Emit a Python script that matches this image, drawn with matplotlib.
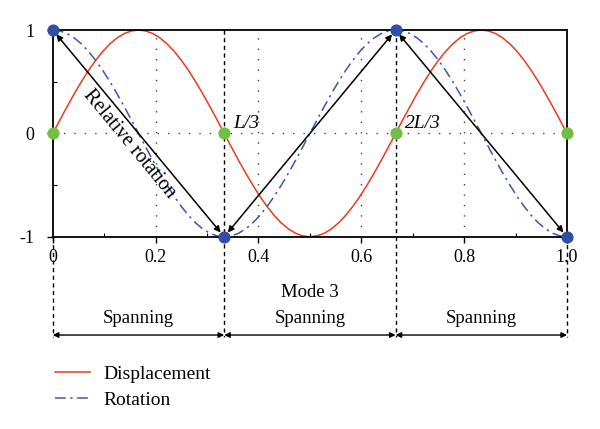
import matplotlib

matplotlib.use("Agg")
import matplotlib.pyplot as plt
from matplotlib.ticker import MultipleLocator

# ---------------------------------------------------------------- data
# positions along the beam (x / L), read every 1/72
X = [k / 72 for k in range(73)]
DISPLACEMENT = [
    0.000, 0.131, 0.259, 0.383, 0.500, 0.609, 0.707, 0.793, 0.866, 0.924, 0.966, 0.991,
    1.000, 0.991, 0.966, 0.924, 0.866, 0.793, 0.707, 0.609, 0.500, 0.383, 0.259, 0.131,
    0.000, -0.131, -0.259, -0.383, -0.500, -0.609, -0.707, -0.793, -0.866, -0.924,
    -0.966, -0.991, -1.000, -0.991, -0.966, -0.924, -0.866, -0.793, -0.707, -0.609,
    -0.500, -0.383, -0.259, -0.131,
    0.000, 0.131, 0.259, 0.383, 0.500, 0.609, 0.707, 0.793, 0.866, 0.924, 0.966, 0.991,
    1.000, 0.991, 0.966, 0.924, 0.866, 0.793, 0.707, 0.609, 0.500, 0.383, 0.259, 0.131,
    0.000]
ROTATION = [
    1.000, 0.991, 0.966, 0.924, 0.866, 0.793, 0.707, 0.609, 0.500, 0.383, 0.259, 0.131,
    0.000, -0.131, -0.259, -0.383, -0.500, -0.609, -0.707, -0.793, -0.866, -0.924,
    -0.966, -0.991,
    -1.000, -0.991, -0.966, -0.924, -0.866, -0.793, -0.707, -0.609, -0.500, -0.383,
    -0.259, -0.131, 0.000, 0.131, 0.259, 0.383, 0.500, 0.609, 0.707, 0.793, 0.866,
    0.924, 0.966, 0.991,
    1.000, 0.991, 0.966, 0.924, 0.866, 0.793, 0.707, 0.609, 0.500, 0.383, 0.259, 0.131,
    0.000, -0.131, -0.259, -0.383, -0.500, -0.609, -0.707, -0.793, -0.866, -0.924,
    -0.966, -0.991,
    -1.000]
SUPPORTS = [0.0, 1 / 3, 2 / 3, 1.0]
ROT_PEAKS = [1.0, -1.0, 1.0, -1.0]
DISP_NODES = [0.0, 0.0, 0.0, 0.0]
SPAN_LABELS = ["Spanning", "Spanning", "Spanning"]
XTICKS = [0, 0.2, 0.4, 0.6, 0.8, 1.0]
XTICK_LABELS = ["0", "0.2", "0.4", "0.6", "0.8", "1.0"]
YTICKS = [-1, 0, 1]
YTICK_LABELS = ["-1", "0", "1"]

RED = "#ee3a1e"
BLUE = "#3d56b0"
MK_BLUE = "#2f4fa6"
MK_GREEN = "#72c043"

plt.rcParams["font.family"] = ["Liberation Serif", "DejaVu Serif"]
plt.rcParams["font.size"] = 13

fig = plt.figure(figsize=(6.0, 4.29), dpi=100)
ax = fig.add_axes([0.088, 0.448, 0.857, 0.482])

ax.plot(X, DISPLACEMENT, color=RED, lw=1.1, label="Displacement")
ax.plot(X, ROTATION, color=BLUE, lw=1.1, dashes=(7, 3, 1.5, 3), label="Rotation")

# dotted guides
for gx in (0.2, 0.4, 0.6, 0.8):
    ax.axvline(gx, color="#444444", lw=1.0, ls=(0, (1, 6.5)), zorder=0.5)
ax.axhline(0, color="#444444", lw=1.0, ls=(0, (1, 6.5)), zorder=0.5)

# dashed support lines, running below the axes
for sx in SUPPORTS:
    y_top = 1.0 if sx in (1 / 3, 2 / 3) else -1.0
    ax.plot([sx, sx], [y_top, -1.97], color="black", lw=1.0, ls=(0, (3, 2.5)),
            clip_on=False, zorder=1)

# relative rotation arrows
for i in range(3):
    ax.annotate("", xy=(SUPPORTS[i + 1], ROT_PEAKS[i + 1]),
                xytext=(SUPPORTS[i], ROT_PEAKS[i]),
                arrowprops=dict(arrowstyle="<|-|>", color="black", lw=1.1,
                                mutation_scale=9, shrinkA=4, shrinkB=4))
ax.text(0.149, -0.10, "Relative rotation", rotation=-50.5, ha="center", va="center",
        fontsize=14.5, rotation_mode="anchor")

# markers
ax.scatter(SUPPORTS, ROT_PEAKS, s=60, color=MK_BLUE, zorder=5, clip_on=False)
ax.scatter(SUPPORTS, DISP_NODES, s=60, color=MK_GREEN, zorder=5, clip_on=False)
ax.text(1 / 3 + 0.018, 0.1, "L/3", style="italic", fontsize=14, ha="left", va="center")
ax.text(2 / 3 + 0.018, 0.1, "2L/3", style="italic", fontsize=14, ha="left", va="center")

# spans below
for i in range(3):
    ax.annotate("", xy=(SUPPORTS[i + 1], -1.95), xytext=(SUPPORTS[i], -1.95),
                arrowprops=dict(arrowstyle="<|-|>", color="black", lw=1.0,
                                mutation_scale=8, shrinkA=0, shrinkB=0),
                annotation_clip=False)
    ax.text((SUPPORTS[i] + SUPPORTS[i + 1]) / 2, -1.79, SPAN_LABELS[i], ha="center",
            va="center", fontsize=13.5, clip_on=False)
ax.text(0.5, -1.54, "Mode 3", ha="center", va="center", fontsize=13.5, clip_on=False)

ax.set_xlim(0, 1)
ax.set_ylim(-1, 1)
ax.set_xticks(XTICKS)
ax.set_xticklabels(XTICK_LABELS, fontsize=13)
ax.set_yticks(YTICKS)
ax.set_yticklabels(YTICK_LABELS, fontsize=13)
ax.xaxis.set_minor_locator(MultipleLocator(0.1))
ax.yaxis.set_minor_locator(MultipleLocator(0.5))
ax.tick_params(which="major", length=4, width=1.0, direction="out")
ax.tick_params(axis="x", which="major", pad=5)
ax.tick_params(axis="y", which="major", pad=9)
ax.tick_params(which="minor", length=3, width=0.8, direction="in")
for sp in ax.spines.values():
    sp.set_linewidth(1.3)

handles, labels = ax.get_legend_handles_labels()
fig.legend(handles, labels, loc="upper left", bbox_to_anchor=(0.062, 0.19),
           frameon=False, fontsize=14, handlelength=1.8, labelspacing=0.45,
           handletextpad=0.7)

fig.savefig("out.png", dpi=100)
